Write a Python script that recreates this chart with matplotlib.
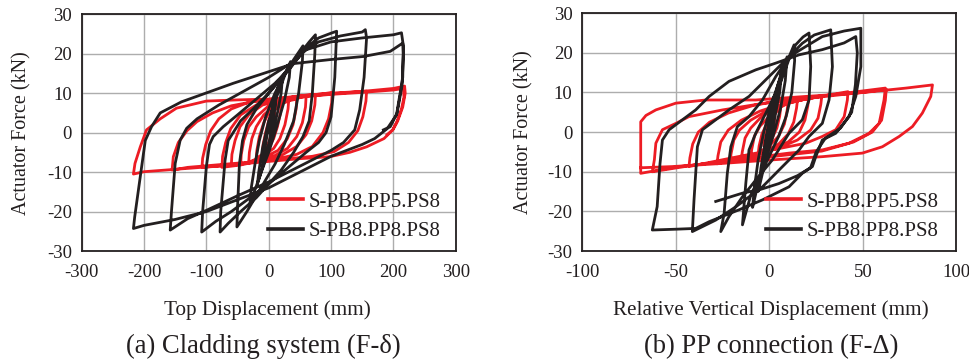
import matplotlib
matplotlib.use("Agg")
import matplotlib.pyplot as plt

plt.rcParams['font.family'] = ['Liberation Serif', 'DejaVu Serif']
plt.rcParams['axes.unicode_minus'] = False

RED = '#ED1C24'
BLACK = '#231F20'
GRID = '#ADADAD'

# ---- data ----
labels = ['S-PB8.PP5.PS8', 'S-PB8.PP8.PS8']
y_ticks = [-30, -20, -10, 0, 10, 20, 30]
a_x_ticks = [-300, -200, -100, 0, 100, 200, 300]
b_x_ticks = [-100, -50, 0, 50, 100]

# (a) top displacement (mm) vs actuator force (kN), PP5 specimen
a_pp5 = [
    (0, 0),
    (3, 3), (8, 4.5), (10, 5),
    (9, 3), (5, 0), (0, -2.5), (-6, -4), (-10, -5),
    (-9, -3), (-5, 0), (0, 3), (8, 5.5), (15, 6.5), (20, 7),
    (19, 5), (14, 1.5), (8, -1.5), (0, -4), (-10, -5.5), (-20, -6.5),
    (-19, -4.5), (-15, -1), (-8, 2.5), (0, 5), (15, 7), (32, 8),
    (31, 6), (26, 2), (18, -1.5), (8, -4), (-10, -6), (-32, -7.5),
    (-31, -5), (-27, -1.5), (-20, 1.5), (-8, 4.5), (10, 7), (30, 8), (45, 8.5),
    (44, 6), (39, 2), (30, -1.5), (15, -4.5), (-10, -6.5), (-30, -7.5), (-45, -8),
    (-44, -5.5), (-40, -2), (-32, 1.5), (-20, 4), (0, 6.8), (25, 8), (45, 8.7), (60, 9.2),
    (59, 6.5), (54, 2.5), (45, -1), (30, -4), (10, -5.8), (-20, -7), (-45, -8), (-60, -8.3),
    (-59, -5.5), (-54, -2), (-46, 1.5), (-32, 4.5), (-10, 7), (20, 8.3), (50, 9.2), (75, 9.6),
    (74, 7), (69, 3), (60, -0.5), (45, -3.5), (20, -5.8), (-10, -7), (-45, -8.2), (-75, -8.8),
    (-74, -6), (-69, -2.5), (-61, 1), (-45, 4.5), (-20, 7), (10, 8.3), (50, 9.3), (85, 9.8), (102, 10.2),
    (101, 7.5), (96, 3.5), (87, 0), (70, -3.5), (45, -5.5), (10, -6.8), (-40, -7.8), (-80, -8.5), (-107, -8.8),
    (-106, -6.5), (-101, -3), (-93, 0.5), (-80, 3.5), (-60, 6), (-30, 7.8), (10, 8.6), (60, 9.5), (110, 10.1), (157, 10.5),
    (156, 8), (151, 4), (143, 0.5), (128, -2.5), (105, -4.8), (70, -6), (20, -6.8), (-40, -7.6), (-100, -8.4), (-130, -8.8), (-155, -9.5),
    (-153, -6.1), (-145, -2.5), (-131, 0.5), (-115, 2.8), (-90, 5), (-60, 6.8), (-20, 8), (40, 9), (100, 9.8), (160, 10.6), (200, 11.2), (218, 11.8),
    (219, 10), (215, 6.5), (207, 3), (199, 0.7), (185, -1.5), (157, -3.6), (130, -5), (98, -6.1), (50, -6.6), (0, -7.3), (-50, -8), (-100, -8.7), (-150, -9.3), (-200, -9.9), (-217, -10.5),
    (-214.5, -7.8), (-206, -3.6), (-196, 0.7), (-174, 3.5), (-148, 6.2), (-100, 8), (-50, 8.3), (0, 8.5), (50, 9), (100, 9.7), (150, 10.2), (200, 10.8), (216, 11.2),
    (217, 9), (213, 6), (205, 2.5), (199, 0.7), (190, -0.5),
]

# (a) PP8 specimen
a_pp8 = [
    (0, 0),
    (4, 4), (8, 7.5), (12, 10),
    (11, 7), (6, 2), (0, -3), (-5, -6), (-10, -9),
    (-8, -6), (-3, -1), (3, 4), (10, 9), (16, 12), (22, 14),
    (20, 10), (14, 5), (5, -1), (-5, -6), (-12, -10), (-18, -13),
    (-16, -10), (-10, -4), (0, 3), (10, 8), (20, 12), (28, 15.5), (35, 18),
    (33, 14), (25, 8), (12, 1), (0, -5), (-12, -10), (-22, -14.5), (-30, -18),
    (-28, -14), (-22, -8), (-15, -2), (-5, 4), (10, 10), (25, 14.5), (40, 18.5), (55, 22),
    (54, 18), (48, 10), (40, 3), (25, -3), (10, -8), (-5, -12), (-20, -16), (-35, -20), (-51, -23.9),
    (-50, -19), (-47, -8), (-42, -2), (-35, 2), (-20, 6), (0, 10), (20, 14), (40, 18), (55, 21), (65, 23), (75, 24.8),
    (74, 20), (70, 10), (65, 3), (55, -1), (40, -5), (20, -9.5), (0, -13), (-20, -16.5), (-45, -20), (-65, -23), (-78, -25.2),
    (-77, -20), (-70, -7), (-65, -2), (-57, 0), (-45, 3), (-25, 6), (0, 10), (25, 14.5), (45, 18.5), (60, 21.5), (80, 24), (100, 25.2), (109, 25.7),
    (108, 22), (106, 14), (100, 4), (92, 0), (80, -2.5), (60, -5), (30, -9), (0, -13), (-30, -16.5), (-60, -20), (-85, -22.5), (-107.5, -25.2),
    (-106, -20), (-100, -8.6), (-95, -3), (-89, -1), (-73, 1.5), (-50, 4.5), (-20, 8.5), (10, 12.5), (35, 16.5), (55, 20.5), (80, 23), (115, 24.5), (150, 25.5), (155, 26.1),
    (157, 24), (153, 14), (146, 5.8), (138, 0.7), (120, -2.5), (100, -4.5), (50, -8.5), (0, -12.5), (-50, -16), (-100, -19.7), (-130, -21.8), (-158, -24.7),
    (-156, -20), (-150, -7.8), (-142, -1.9), (-131.6, 1.1), (-115, 3.5), (-80, 7), (-40, 10.5), (0, 14), (40, 18), (60, 21), (100, 23), (150, 24), (200, 24.8), (213, 25.3),
    (216, 22), (215, 14), (205, 4.5), (190, 1), (170, -1.5), (150, -3), (100, -6), (50, -10), (0, -14), (-50, -17), (-100, -20), (-150, -22), (-200, -23.5), (-217, -24.3),
    (-215, -21.4), (-205, -10), (-198, -2), (-188, 1.5), (-174, 5), (-140, 7.8), (-110, 9.5), (-57, 12.5), (-3, 15.3), (40, 17.5), (98, 18.5), (152, 19.3), (195, 20.6), (215, 22.7),
    (216, 20), (214, 12), (206, 5), (195, 1.5), (184, 0.7),
]

# (b) relative vertical displacement (mm) vs actuator force (kN), PP5 specimen
b_pp5 = [
    (0, 0),
    (1, 2.5), (3, 4),
    (2.5, 2), (1, -0.5), (-1, -2.5), (-3, -3.5),
    (-2.5, -1.5), (-1, 1), (1.5, 3.5), (4, 5.2), (6, 6),
    (5.5, 4), (4, 1), (1, -2), (-2, -4), (-6, -5.5),
    (-5.5, -3.5), (-4, -0.5), (-1, 2.5), (3, 5), (7, 6.8), (10, 7.5),
    (9.5, 5.5), (8, 2), (5, -1), (0, -3.5), (-5, -5), (-10, -6.5),
    (-9.5, -4.5), (-8, -1), (-5, 1.5), (0, 4), (6, 6.3), (11, 7.5), (15, 8),
    (14.5, 6), (13, 2.5), (10, -0.5), (5, -3), (-3, -5), (-9, -6.3), (-15, -7),
    (-14.5, -5), (-13, -1.5), (-10, 1), (-5, 3.5), (2, 5.8), (10, 7.3), (21, 8.5),
    (20.5, 6.5), (19, 3), (16, 0), (10, -2.5), (0, -4.5), (-10, -6.3), (-21, -7.5),
    (-20.5, -5.5), (-19, -2), (-16, 0.5), (-10, 3), (-2, 5.2), (8, 7), (18, 8.2), (28, 9),
    (27.5, 7), (26, 3.5), (22, 0.5), (15, -2), (5, -4), (-10, -6), (-28, -8),
    (-27.5, -6), (-26, -2.5), (-22, 0.5), (-15, 3), (-5, 5.3), (8, 7.3), (25, 8.8), (42, 10.2),
    (41.7, 8.1), (40, 3.9), (35.5, 0.6), (28.3, -1.1), (19.5, -2.8), (1.6, -4.5), (-20, -6.5), (-43, -8.7),
    (-42.5, -6.5), (-41, -3), (-38, 0), (-32, 2.5), (-22, 4.8), (-8, 6.8), (10, 8.2), (35, 9.5), (62, 11.1),
    (61.3, 8.1), (58.7, 2.2), (53.3, -0.3), (42.6, -2.8), (28.3, -4.5), (10.5, -5.3), (-15, -6.8), (-40, -8.3), (-62.6, -10),
    (-61.5, -7), (-60.7, -2.8), (-57.2, 0.6), (-50, 2.2), (-43, 3.9), (-25, 5.6), (0, 7.5), (30, 9), (55, 10.3), (62.5, 10.8),
    (62, 8), (60, 3), (55, 0), (45, -2.5), (28, -4.8), (5, -6), (-25, -7.5), (-50, -8.8), (-68.8, -10.4),
    (-68.8, 2.6), (-66, 4.2), (-60.7, 5.6), (-50, 7.3), (-34, 8.1), (-7.3, 8.1), (19.5, 9), (46.2, 9.8), (73, 11.1), (87.2, 11.9),
    (86.3, 9), (81.8, 4.8), (76.5, 1.4), (69.4, -1.1), (60.4, -3.7), (49.7, -5.3), (28.3, -6.2), (1.6, -7), (-25, -7.9), (-52, -8.7), (-68.8, -9),
]

# (b) PP8 specimen
b_pp8 = [
    (0, 0), (1, 3), (2.5, 6),
    (2, 3), (0, -1), (-1.5, -4), (-2.5, -6),
    (-1.5, -2), (0, 2), (2, 6), (4, 10),
    (3, 6), (1, 1), (-1, -4), (-3, -8), (-4.5, -11),
    (-3, -6), (-1, 0), (2, 6), (4.5, 11), (6.5, 15),
    (5.5, 10), (3, 4), (0, -3), (-3, -9), (-6, -15),
    (-4.5, -9), (-2, -2), (1, 5), (4, 11), (7, 16), (9.5, 19),
    (8.5, 13), (6, 6), (2, -1), (-2, -7), (-6, -13), (-9, -19),
    (-8, -14), (-6, -7), (-3, 0), (1, 7), (5, 12.5), (10, 18.4), (13.2, 22),
    (13.5, 18), (12, 10), (9, 4), (5, -1), (0, -6), (-5, -11), (-10, -16), (-14.4, -23.4),
    (-12.6, -12.9), (-10.9, -4.5), (-7.3, -0.3), (-1.9, 4.8), (5.2, 11.5), (10.5, 18.4), (14, 22), (18, 24), (21.2, 25),
    (22.1, 16.5), (21.2, 8.1), (17.6, 3.1), (10.5, -0.3), (1.6, -7), (-7.3, -12.1), (-14.4, -16.3), (-21.6, -21.3), (-26, -25.1),
    (-24.2, -20.5), (-22.5, -10.4), (-20.6, -3.7), (-17.1, 1.4), (-10.9, 3.9), (-3.7, 8.1), (3.4, 14), (10.5, 19), (17.6, 22.4), (24, 24.5), (32.8, 25.8),
    (33.7, 16.5), (31.9, 8.1), (28.3, 2.2), (21.2, -1.1), (15.9, -4.5), (7, -8.7), (-3.7, -13.8), (-17.8, -18.8), (-28.7, -22.2), (-41.2, -25.1),
    (-40.3, -17.1), (-38.5, -3.7), (-35.8, 0.6), (-28.7, 3.1), (-21.6, 5.6), (-10.9, 9), (-0.2, 14), (10.5, 19), (19.5, 21.6), (28.3, 24.1), (40, 25.5), (48.9, 26.2),
    (48.9, 16.5), (46.2, 9), (42.6, 3.9), (35.5, -0.3), (28.3, -2), (24.8, -6.2), (23, -8.7), (17.6, -10.4), (10.5, -13.8), (-3.7, -17.1), (-16.2, -19.6), (-32.2, -22.6), (-39.4, -24.3), (-50, -24.5), (-62.6, -24.7),
    (-60, -18.8), (-58.5, -8), (-57.2, -2), (-53.6, 0.6), (-46.5, 3.1), (-39.4, 5.6), (-32.2, 9), (-21.6, 12.8), (-7.3, 15.7), (3.4, 17.4), (15.9, 19.5), (28.3, 20.8), (40, 22.5), (46.2, 24.1),
    (47, 20), (46, 12), (44, 5), (38, 1), (30, -1.5), (25, -5), (22, -9), (15, -11), (5, -13), (-5, -14.5), (-14.4, -15.4), (-28.7, -17.5),
]


def draw_panel(ax, red_pts, black_pts, xticks, leg_x, ylab_x):
    rx, ry = zip(*red_pts)
    bx, by = zip(*black_pts)
    ax.plot(rx, ry, color=RED, lw=2.0, solid_joinstyle='round', label=labels[0], zorder=3)
    ax.plot(bx, by, color=BLACK, lw=2.0, solid_joinstyle='round', label=labels[1], zorder=4)
    ax.set_xlim(xticks[0], xticks[-1])
    ax.set_ylim(y_ticks[0], y_ticks[-1])
    ax.set_xticks(xticks)
    ax.set_yticks(y_ticks)
    ax.grid(True, color=GRID, lw=1.0)
    ax.set_axisbelow(True)
    ax.tick_params(length=0, labelsize=13.5, colors=BLACK)
    ax.tick_params(axis='x', pad=9)
    ax.tick_params(axis='y', pad=7)
    for s in ax.spines.values():
        s.set_linewidth(1.3)
        s.set_color(BLACK)
    ax.set_ylabel('Actuator Force (kN)', fontsize=14.5, color=BLACK)
    ax.yaxis.set_label_coords(ylab_x, 0.5)
    leg = ax.legend(loc='center left', bbox_to_anchor=(leg_x, 0.145), frameon=False,
                    fontsize=15, handlelength=1.7, handletextpad=0.25,
                    labelspacing=0.48, borderpad=0, borderaxespad=0)
    for h in leg.get_lines():
        h.set_linewidth(2.6)
    for t in leg.get_texts():
        t.set_color(BLACK)


fig = plt.figure(figsize=(9.69, 3.62), dpi=100)
ax1 = fig.add_axes([0.0843, 0.3066, 0.386, 0.654])
ax2 = fig.add_axes([0.601, 0.3066, 0.386, 0.657])

draw_panel(ax1, a_pp5, a_pp8, a_x_ticks, 0.498, -0.135)
draw_panel(ax2, b_pp5, b_pp8, b_x_ticks, 0.49, -0.132)

fig.text(0.2755, 0.1436, 'Top Displacement (mm)', ha='center', va='center', fontsize=15.2, color=BLACK)
fig.text(0.7953, 0.1436, 'Relative Vertical Displacement (mm)', ha='center', va='center', fontsize=15.2, color=BLACK)
fig.text(0.2714, 0.042, '(a) Cladding system (F-δ)', ha='center', va='center', fontsize=19.2, color=BLACK)
fig.text(0.7962, 0.042, '(b) PP connection (F-Δ)', ha='center', va='center', fontsize=19.2, color=BLACK)

fig.savefig('out.png', dpi=100)
